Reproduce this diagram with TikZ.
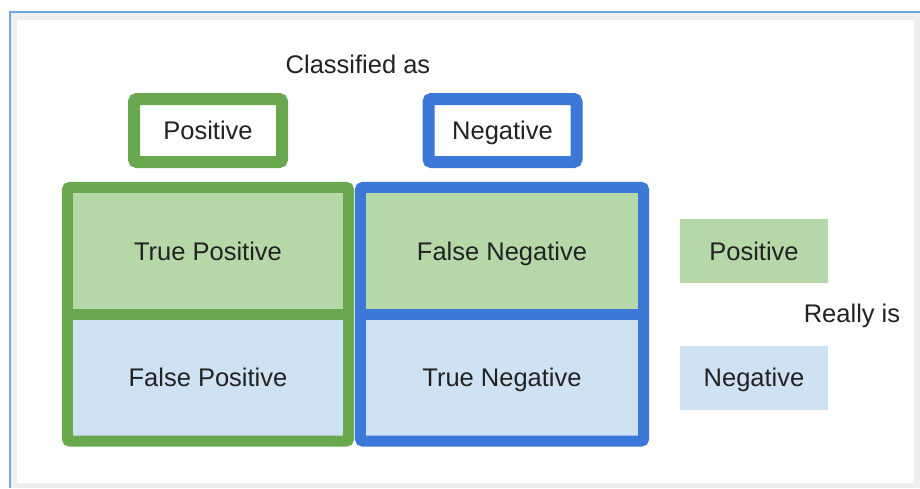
\documentclass[tikz,border=0pt]{standalone}
\usepackage{fontspec}
\setmainfont{Liberation Sans}
\definecolor{gborder}{HTML}{6AA84F}
\definecolor{bborder}{HTML}{3C78D8}
\definecolor{gfill}{HTML}{B6D7A8}
\definecolor{bfill}{HTML}{CFE2F3}
\definecolor{frameblue}{HTML}{6FA8DC}
\definecolor{framegray}{HTML}{EEEEEE}
\definecolor{txt}{HTML}{222222}
\tikzset{
  lbl/.style={text=txt, font=\fontsize{25.5}{30}\selectfont, inner sep=0pt, text height=18.4, text depth=0},
  cell/.style={lbl, minimum width=#1, minimum height=127, draw=none},
  hdr/.style={lbl, draw=#1, line width=12, fill=white, rounded corners=3, minimum width=148, minimum height=63},
  legbox/.style={lbl, fill=#1, minimum width=148, minimum height=64},
  grid/.style={draw=#1, line width=11, rounded corners=3}
}
\begin{document}
\begin{tikzpicture}[x=1pt,y=-1pt]
\useasboundingbox (0,0) rectangle (920,488);
% outer frame
\fill[white] (0,0) rectangle (920,488);
\fill[framegray] (10,12) rectangle (920,488);
\fill[white] (17,20) rectangle (914,483);
\draw[frameblue, line width=1.5] (10,488) -- (10,12) -- (920,12);
% titles
\node[lbl] (clas) at (358,64) {Classified as};
\node[hdr=gborder] (hpos) at (208,130.5) {Positive};
\node[hdr=bborder] (hneg) at (502.5,130.5) {Negative};
% cells
\node[cell=281, fill=gfill] (tp) at (208,251) {True Positive};
\node[cell=281, fill=bfill] (fp) at (208,377.5) {False Positive};
\node[cell=283, fill=gfill] (fn) at (502,251) {False Negative};
\node[cell=283, fill=bfill] (tn) at (502,377.5) {True Negative};
% grid borders
\draw[grid=gborder] (tp.north west) rectangle (fp.south east);
\draw[draw=gborder, line width=11] (tp.south west) -- (tp.south east);
\draw[grid=bborder] (fn.north west) rectangle (tn.south east);
\draw[draw=bborder, line width=11] (fn.south west) -- (fn.south east);
% legend
\node[legbox=gfill] (lpos) at (754,251) {Positive};
\node[legbox=bfill] (lneg) at (754,377.5) {Negative};
\node[lbl] (really) at (852,313) {Really is};
\end{tikzpicture}
\end{document}
